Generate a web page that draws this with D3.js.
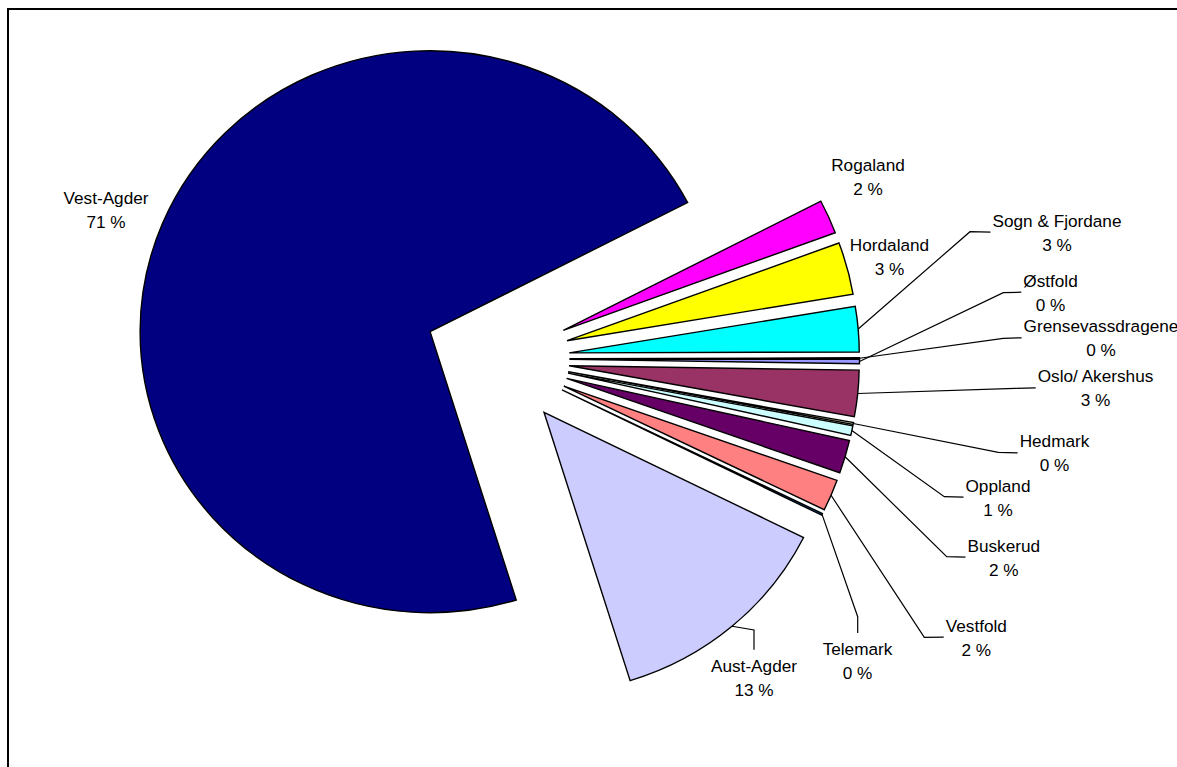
<!DOCTYPE html>
<html>
<head>
<meta charset="utf-8">
<script src="https://cdn.jsdelivr.net/npm/d3@7"></script>
<style>
  html, body { margin: 0; padding: 0; background: #ffffff; overflow: hidden; }
  text { font-family: Arial, "Liberation Sans", sans-serif; fill: #000; }
</style>
</head>
<body>
<svg id="chart" width="1177" height="767"></svg>
<script>
// ---- data (in drawing order, clockwise from the first slice) ----
const regions = ["Østfold", "Oslo/ Akershus", "Hedmark", "Oppland", "Buskerud", "Vestfold",
                 "Telemark", "Aust-Agder", "Vest-Agder", "Rogaland", "Hordaland",
                 "Sogn & Fjordane", "Grensevassdragene"];
const shares = [0.25, 2.65, 0.1, 0.55, 1.9, 1.8, 0.1, 12.85, 72.2, 1.95, 3.0, 2.6, 0.05];
const pctLabels = ["0 %", "3 %", "0 %", "1 %", "2 %", "2 %", "0 %", "13 %", "71 %", "2 %", "3 %", "3 %", "0 %"];
const colors = ["#9999FF", "#993366", "#FFFFCC", "#CCFFFF", "#660066", "#FF8080",
                "#0066CC", "#CCCCFF", "#000080", "#FF00FF", "#FFFF00", "#00FFFF", "#800080"];

// ---- layout (label centre x, first baseline y, leader elbow, leader side) ----
const labelLayout = {
  "Vest-Agder":        { x: 106,    y: 204,   leader: null },
  "Rogaland":          { x: 868,    y: 170.7, leader: null },
  "Hordaland":         { x: 889.5,  y: 251,   leader: null },
  "Sogn & Fjordane":   { x: 1057,   y: 226.7, leader: { elbow: [970, 231.7],   side: "left" } },
  "Østfold":           { x: 1050.5, y: 286.7, leader: { elbow: [1003.3, 292.7], side: "left" } },
  "Grensevassdragene": { x: 1101,   y: 332.3, leader: { elbow: [1003.3, 338.3], side: "left" } },
  "Oslo/ Akershus":    { x: 1095.5, y: 382.3, leader: { elbow: [1015, 388.3],   side: "left" } },
  "Hedmark":           { x: 1054.5, y: 447.3, leader: { elbow: [998.3, 452.3],  side: "left" } },
  "Oppland":           { x: 998,    y: 491.7, leader: { elbow: [944.3, 496.7],  side: "left" } },
  "Buskerud":          { x: 1003.8, y: 551.7, leader: { elbow: [946.7, 556.7],  side: "left" } },
  "Vestfold":          { x: 976.3,  y: 631.7, leader: { elbow: [924.3, 637.3],  side: "left" } },
  "Telemark":          { x: 857.5,  y: 655,   leader: { elbow: [857.7, 616.7],  side: "top" } },
  "Aust-Agder":        { x: 754,    y: 671.7, leader: { elbow: [754, 630],      side: "top" } }
};

const W = 1177, H = 767;
const cx = 497, cy = 358.8;      // pie centre
const R = 290;                   // radius
const kY = 0.969;                // vertical aspect of the pie
const explode = 72.5;            // explosion distance
const fontSize = 17.2;
const lineGap = 23.8;

const svg = d3.select("#chart").attr("width", W).attr("height", H);

// frame
svg.append("rect")
  .attr("x", 8).attr("y", 9)
  .attr("width", W + 20).attr("height", H + 20)
  .attr("fill", "#fff").attr("stroke", "#000").attr("stroke-width", 2);

const data = regions.map((r, i) => ({ name: r, v: shares[i], label: pctLabels[i], color: colors[i] }));

const pie = d3.pie().sort(null).value(d => d.v)
  .startAngle(Math.PI / 2).endAngle(Math.PI / 2 + 2 * Math.PI);
const arcs = pie(data);
const arc = d3.arc().innerRadius(0).outerRadius(R);

const g = svg.append("g").attr("transform", `translate(${cx},${cy}) scale(1,${kY})`);

g.selectAll("path.slice")
  .data(arcs)
  .join("path")
  .attr("class", "slice")
  .attr("d", arc)
  .attr("transform", d => {
    const m = (d.startAngle + d.endAngle) / 2;
    return `translate(${explode * Math.sin(m)},${-explode * Math.cos(m)})`;
  })
  .attr("fill", d => d.data.color)
  .attr("stroke", "#000")
  .attr("stroke-width", 1.4)
  .attr("stroke-linejoin", "miter")
  .attr("vector-effect", "non-scaling-stroke");

// labels
const labG = svg.append("g");
arcs.forEach(d => {
  const lay = labelLayout[d.data.name];
  const t1 = labG.append("text")
    .attr("x", lay.x).attr("y", lay.y)
    .attr("text-anchor", "middle")
    .attr("font-size", fontSize)
    .text(d.data.name);
  labG.append("text")
    .attr("x", lay.x).attr("y", lay.y + lineGap)
    .attr("text-anchor", "middle")
    .attr("font-size", fontSize)
    .text(d.data.label);

  if (lay.leader) {
    const m = (d.startAngle + d.endAngle) / 2;
    const start = [cx + (explode + R) * Math.sin(m), cy - kY * (explode + R) * Math.cos(m)];
    let end;
    if (lay.leader.side === "left") {
      const bb = t1.node().getBBox();
      end = [bb.x - 2, lay.y + 5.5];
    } else {
      end = [lay.leader.elbow[0], lay.y - 22];
    }
    labG.append("path")
      .attr("d", d3.line()([start, lay.leader.elbow, end]))
      .attr("fill", "none")
      .attr("stroke", "#000")
      .attr("stroke-width", 1.2);
  }
});
</script>
</body>
</html>
